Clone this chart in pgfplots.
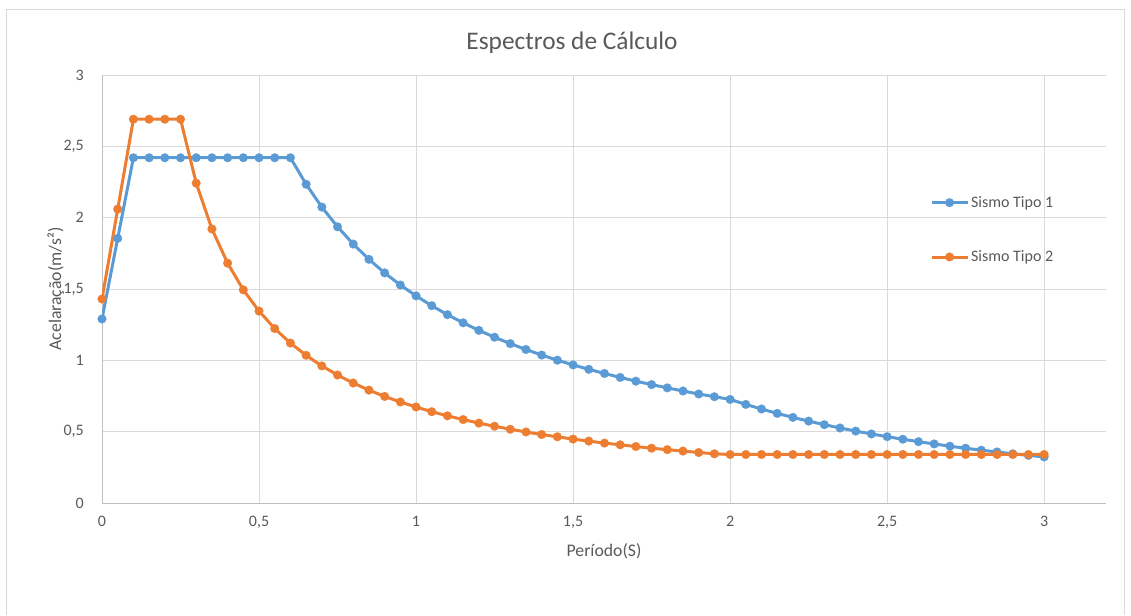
\documentclass[border=0pt]{standalone}
\usepackage{fontspec}
\setmainfont{Carlito}
\usepackage{pgfplots}
\pgfplotsset{compat=1.18}
\definecolor{txt}{RGB}{89,89,89}
\definecolor{gridc}{RGB}{217,217,217}
\definecolor{axisc}{RGB}{191,191,191}
\definecolor{frame}{RGB}{217,217,217}
\definecolor{s1}{RGB}{91,155,213}
\definecolor{s2}{RGB}{237,125,49}

% Sismo Tipo 1
\pgfplotstableread{
T     Se
0     1.29
0.05  1.855
0.10  2.42
0.15  2.42
0.20  2.42
0.25  2.42
0.30  2.42
0.35  2.42
0.40  2.42
0.45  2.42
0.50  2.42
0.55  2.42
0.60  2.42
0.65  2.234
0.70  2.074
0.75  1.936
0.80  1.815
0.85  1.708
0.90  1.613
0.95  1.528
1.00  1.452
1.05  1.383
1.10  1.320
1.15  1.263
1.20  1.210
1.25  1.162
1.30  1.117
1.35  1.076
1.40  1.037
1.45  1.001
1.50  0.968
1.55  0.937
1.60  0.908
1.65  0.880
1.70  0.854
1.75  0.830
1.80  0.807
1.85  0.785
1.90  0.764
1.95  0.745
2.00  0.726
2.05  0.691
2.10  0.659
2.15  0.628
2.20  0.600
2.25  0.574
2.30  0.549
2.35  0.526
2.40  0.504
2.45  0.484
2.50  0.465
2.55  0.447
2.60  0.430
2.65  0.414
2.70  0.398
2.75  0.384
2.80  0.370
2.85  0.358
2.90  0.345
2.95  0.334
3.00  0.323
}\tipoum

% Sismo Tipo 2
\pgfplotstableread{
T     Se
0     1.43
0.05  2.06
0.10  2.69
0.15  2.69
0.20  2.69
0.25  2.69
0.30  2.242
0.35  1.921
0.40  1.681
0.45  1.494
0.50  1.345
0.55  1.223
0.60  1.121
0.65  1.035
0.70  0.961
0.75  0.897
0.80  0.841
0.85  0.791
0.90  0.747
0.95  0.708
1.00  0.673
1.05  0.640
1.10  0.611
1.15  0.585
1.20  0.560
1.25  0.538
1.30  0.517
1.35  0.498
1.40  0.480
1.45  0.464
1.50  0.448
1.55  0.434
1.60  0.420
1.65  0.408
1.70  0.396
1.75  0.384
1.80  0.374
1.85  0.364
1.90  0.354
1.95  0.345
2.00  0.34
2.05  0.34
2.10  0.34
2.15  0.34
2.20  0.34
2.25  0.34
2.30  0.34
2.35  0.34
2.40  0.34
2.45  0.34
2.50  0.34
2.55  0.34
2.60  0.34
2.65  0.34
2.70  0.34
2.75  0.34
2.80  0.34
2.85  0.34
2.90  0.34
2.95  0.34
3.00  0.34
}\tipodois

\begin{document}
\begin{tikzpicture}
    % 1 px of the reference = 0.75pt; page is 1131 x 615 px
    \useasboundingbox (0pt,0pt) rectangle (848.25pt,461.25pt);
    \draw[frame, line width=0.75pt] (4.5pt,0pt) -- (4.5pt,453.75pt) -- (843pt,453.75pt) -- (843pt,0pt);
    \node[font=\fontsize{19}{22}\selectfont, text=txt] at (429pt,429pt) {Espectros de Cálculo};

    \begin{axis}[
        at={(76.5pt,84pt)}, anchor=south west,
        scale only axis,
        width=753pt, height=321pt,
        xmin=0, xmax=3.197,
        ymin=0, ymax=3,
        axis x line=bottom, axis y line=left,
        axis line style={axisc, line width=0.75pt, -},
        tick style={draw=none},
        grid=major,
        grid style={gridc, line width=0.75pt},
        xtick={0,0.5,1,1.5,2,2.5,3},
        xticklabels={0,{0,5},1,{1,5},2,{2,5},3},
        ytick={0,0.5,1,1.5,2,2.5,3},
        yticklabels={0,{0,5},1,{1,5},2,{2,5},3},
        ticklabel style={font=\fontsize{12}{14}\selectfont, text=txt},
        xticklabel style={yshift=-4pt},
        yticklabel style={xshift=-8pt},
        xlabel={Período(S)},
        ylabel={Acelaração(m/s²)},
        label style={font=\fontsize{13.3}{15}\selectfont, text=txt},
        xlabel style={at={(axis description cs:0.5,-0.112)}, anchor=center},
        ylabel style={at={(axis description cs:-0.046,0.5)}, anchor=center},
        legend style={
            at={(axis description cs:0.8205,0.730)}, anchor=north west,
            draw=none, fill=none,
            font=\fontsize{12}{14}\selectfont, text=txt,
            row sep=27pt,
            /tikz/every even column/.append style={column sep=0pt},
            nodes={inner xsep=1.5pt},
        },
        legend cell align=left,
        legend image code/.code={
            \draw[mark repeat=2, mark phase=2, #1]
                plot coordinates {(0cm,0cm) (0.475cm,0cm) (0.95cm,0cm)};
        },
        every axis plot/.append style={line width=2.25pt, mark=*, mark size=3.3pt},
    ]
        \addplot[s1, mark options={fill=s1, draw=s1, line width=0.1pt}] table[x=T, y=Se] {\tipoum};
        \addlegendentry{Sismo Tipo 1}
        \addplot[s2, mark options={fill=s2, draw=s2, line width=0.1pt}] table[x=T, y=Se] {\tipodois};
        \addlegendentry{Sismo Tipo 2}
    \end{axis}
\end{tikzpicture}
\end{document}
